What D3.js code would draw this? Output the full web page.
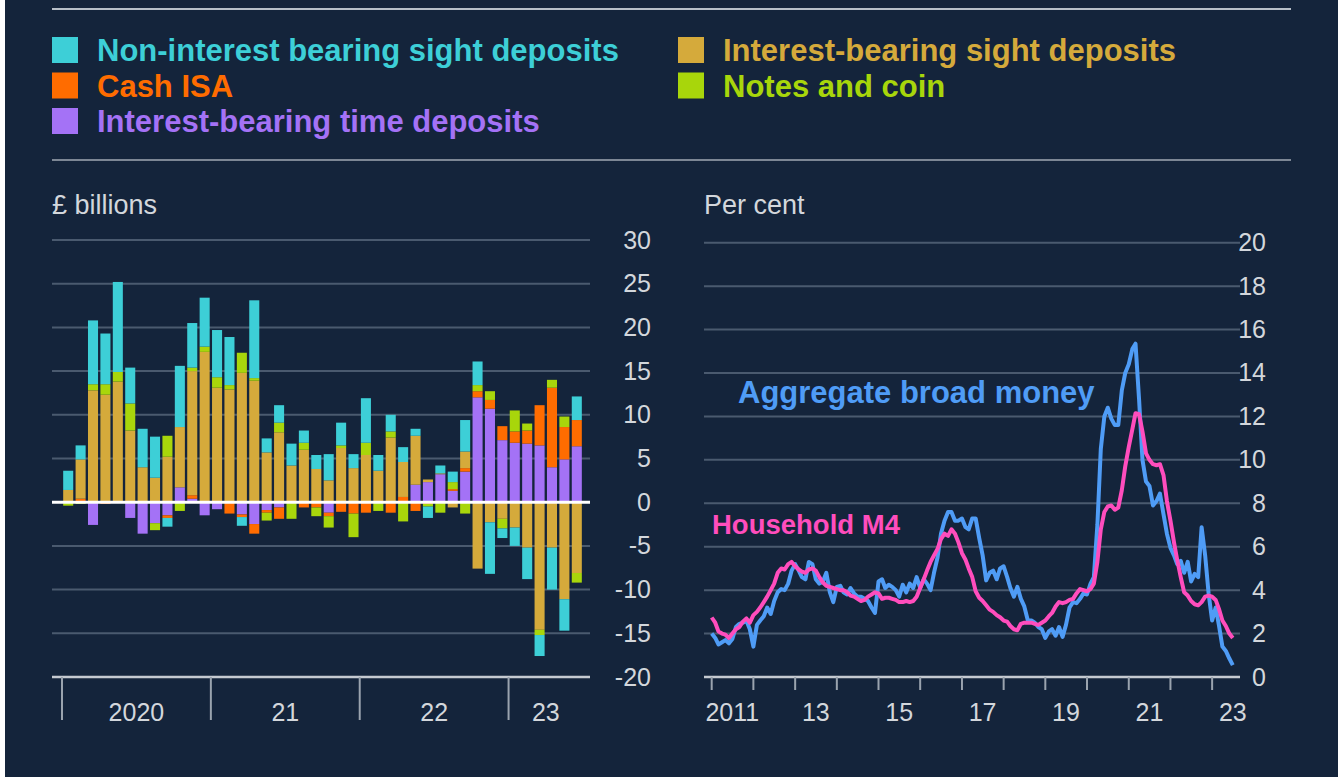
<!DOCTYPE html>
<html>
<head>
<meta charset="utf-8">
<script src="https://cdn.jsdelivr.net/npm/d3@7"></script>
<style>
    html, body { margin: 0; padding: 0; background: #14243b; }
    svg { display: block; font-family: "Liberation Sans", Arial, sans-serif; }
</style>
</head>
<body>
<div id="chart"></div>
<script>
// left panel: monthly flows, Jan 2020 - Jun 2023 (£ billions)
var barMonths = d3.range(42).map(function (i) { return new Date(2020, i, 1); });

var timeDeposits = [0, 0, -2.6, 0, 0, -1.8, -3.6, -2.4, -1.5, 1.7, 0.4, -1.5,
    -0.8, 0, -1.4, -2.5, -0.9, -0.6, 0, 0, 0, -1.2, 0, 0,
    0, 0, 0, 0, 2.0, 2.3, 3.2, 1.3, 3.5, 12.0, 10.7, 7.1,
    6.8, 6.7, 6.5, 4.0, 4.9, 6.4];
var cashIsa = [0, 0.4, 0, -0.2, 0, 0, 0, 0, -0.3, 0, 0.4, 0,
    0, -1.3, -0.3, -1.1, -0.3, -1.3, 0, -0.6, -0.6, -0.4, -1.1, -1.3,
    -1.2, 0, -1.2, 0.6, -1.0, -0.2, -0.1, 0.2, 0.4, 0.7, 1.0, 1.6,
    1.3, 1.5, 4.6, 9.1, 3.7, 3.0];
var sightInterest = [1.4, 4.5, 12.8, 12.3, 13.8, 8.2, 4.0, 2.8, 5.2, 6.9, 14.2, 17.2,
    13.1, 12.9, 14.8, 13.9, 5.7, 8.0, 4.2, 6.0, 3.8, 2.5, 6.2, 3.9,
    5.4, 3.6, 7.4, 4.0, 5.6, 0.3, 0.1, -0.6, 1.9, -7.6, -2.3, -1.9,
    -2.9, -5.2, -14.6, -5.2, -11.1, -8.1];
var notesCoin = [-0.4, -0.2, 0.7, 1.2, 1.1, 3.1, 0, -0.8, 2.4, -1.0, 0.4, 0.6,
    1.2, 0.5, 2.3, 0.3, -0.9, 1.1, -1.9, 0.8, -1.0, -1.3, 0.3, -2.7,
    1.4, -1.0, 0.7, -2.2, 0, -0.3, -1.1, 0.8, -1.3, 0.7, 1.0, -1.1,
    2.4, 0.8, -0.6, 0.9, 1.2, -1.1];
var sightNonInterest = [2.2, 1.6, 7.3, 5.8, 10.3, 4.1, 4.4, 4.7, -1.0, 7.0, 5.1, 5.6,
    5.4, 5.5, -1.0, 8.9, 1.6, 2.0, 2.5, 1.4, 1.6, 3.0, 2.6, 1.6,
    5.1, 1.8, 1.9, 1.7, 0.8, -1.3, 0.9, 1.2, 3.6, 2.7, -5.9, -1.1,
    -2.1, -3.6, -2.4, -4.8, -3.6, 2.7];

var barTicks = [-20, -15, -10, -5, 0, 5, 10, 15, 20, 25, 30];
var barYears = [2020, 2021, 2022, 2023];
var barYearLabels = ['2020', '21', '22', '23'];

// right panel: annual growth rates, monthly from Jan 2011 (per cent)
var broadMoney = [2.0, 1.8, 1.5, 1.6, 1.7, 1.55, 1.75, 2.3, 2.45, 2.5, 2.6, 2.2,
    1.4, 2.4, 2.6, 2.8, 3.2, 2.9, 3.5, 3.9, 4.05, 4.0, 4.3, 4.9,
    5.2, 4.9, 4.6, 4.5, 5.3, 5.2, 4.5, 4.3, 4.4, 4.8, 3.9, 3.45,
    4.15, 4.2, 3.9, 3.8, 4.1, 3.85, 3.7, 3.7, 3.6, 3.5, 3.2, 2.95,
    4.4, 4.5, 4.1, 4.25, 4.15, 4.0, 3.7, 4.25, 3.9, 4.3, 4.1, 4.6,
    4.1, 4.5, 4.3, 4.0, 4.8, 5.5, 6.6, 7.2, 7.6, 7.6, 7.2, 7.2,
    7.3, 6.9, 6.8, 7.3, 7.3, 6.4, 5.6, 4.45, 4.8, 4.9, 4.5, 5.0,
    5.1, 4.6, 4.1, 3.7, 4.15, 3.6, 3.25, 2.6, 2.6, 2.5, 2.3, 2.2,
    1.8, 2.1, 2.2, 1.9, 2.3, 1.85, 2.4, 3.2, 3.45, 3.4, 3.6, 3.85,
    3.8, 4.3, 4.6, 7.0, 10.5, 12.0, 12.4, 11.9, 11.6, 11.6, 13.2, 14.0,
    14.4, 15.1, 15.35, 12.8, 10.0, 9.0, 8.8, 7.9, 8.1, 8.45, 7.5, 6.6,
    5.95, 5.6, 5.2, 5.35, 4.8, 5.3, 4.4, 4.75, 4.6, 6.9, 5.6, 3.85,
    2.6, 3.2, 2.4, 1.4, 1.2, 0.85, 0.55];
var householdM4 = [2.74, 2.5, 2.1, 2.0, 1.95, 1.8, 2.0, 2.2, 2.3, 2.55, 2.7, 2.5,
    2.85, 3.0, 3.2, 3.45, 3.7, 4.0, 4.3, 4.8, 5.0, 4.95, 5.2, 5.3,
    5.1, 4.95, 4.85, 4.8, 4.95, 5.0, 4.9, 4.6, 4.35, 4.2, 4.15, 4.1,
    4.05, 4.0, 4.0, 3.9, 3.75, 3.7, 3.6, 3.5, 3.55, 3.7, 3.8, 3.9,
    3.85, 3.6, 3.65, 3.65, 3.6, 3.55, 3.45, 3.45, 3.5, 3.45, 3.5, 3.7,
    4.1, 4.5, 4.9, 5.3, 5.6, 5.9, 6.35, 6.6, 6.5, 6.8, 6.6, 6.2,
    5.7, 5.4, 5.0, 4.6, 3.95, 3.65, 3.5, 3.3, 3.1, 3.0, 2.85, 2.75,
    2.6, 2.55, 2.35, 2.2, 2.15, 2.45, 2.5, 2.5, 2.5, 2.45, 2.4, 2.5,
    2.6, 2.8, 2.95, 3.25, 3.45, 3.4, 3.45, 3.55, 3.6, 3.85, 4.05, 4.0,
    3.95, 4.05, 4.3, 5.3, 6.8, 7.6, 7.85, 7.9, 7.7, 7.8, 8.6, 9.7,
    10.6, 11.4, 12.15, 12.1, 11.3, 10.3, 10.0, 9.8, 9.75, 9.8, 9.3, 8.1,
    7.2, 6.2, 5.4, 4.6, 3.9, 3.75, 3.5, 3.35, 3.3, 3.45, 3.7, 3.75,
    3.7, 3.55, 3.15, 2.6, 2.35, 2.0, 1.8];
var lineMonths = d3.range(broadMoney.length).map(function (i) { return new Date(2011, i, 1); });

var lineTicks = [0, 2, 4, 6, 8, 10, 12, 14, 16, 18, 20];
var lineYears = d3.range(2011, 2024);
var lineYearLabels = ['2011', '13', '15', '17', '19', '21', '23'];

var series = [
    { key: 'time', name: 'Interest-bearing time deposits', color: '#a472f6', values: timeDeposits },
    { key: 'isa', name: 'Cash ISA', color: '#ff6c00', values: cashIsa },
    { key: 'sight', name: 'Interest-bearing sight deposits', color: '#d5aa3b', values: sightInterest },
    { key: 'notes', name: 'Notes and coin', color: '#a8d60b', values: notesCoin },
    { key: 'nib', name: 'Non-interest bearing sight deposits', color: '#3dcfd7', values: sightNonInterest }
];
var legendOrder = [
    { key: 'nib', col: 0, row: 0 },
    { key: 'isa', col: 0, row: 1 },
    { key: 'time', col: 0, row: 2 },
    { key: 'sight', col: 1, row: 0 },
    { key: 'notes', col: 1, row: 1 }
];

var bg = '#14243b';
var gridColor = '#4a5a6f';
var axisColor = '#c5cad1';
var textColor = '#d3d7dc';

var width = 1338, height = 777;
var plain = function (d) { return String(d); };

var svg = d3.select('#chart').append('svg')
    .attr('width', width)
    .attr('height', height);

svg.append('rect').attr('width', width).attr('height', height).attr('fill', bg);
svg.append('rect').attr('width', 5).attr('height', height).attr('fill', '#ffffff');

// legend
svg.append('line').attr('x1', 52).attr('x2', 1291).attr('y1', 9).attr('y2', 9)
    .attr('stroke', '#b7bfc8').attr('stroke-width', 2);
svg.append('line').attr('x1', 52).attr('x2', 1291).attr('y1', 160).attr('y2', 160)
    .attr('stroke', '#7d8795').attr('stroke-width', 2);

var byKey = {};
series.forEach(function (s) { byKey[s.key] = s; });

var legend = svg.append('g').selectAll('g')
    .data(legendOrder)
    .join('g')
    .attr('transform', function (d) {
        return 'translate(' + (52 + d.col * 626) + ',' + (50 + d.row * 35.5) + ')';
    });
legend.append('rect')
    .attr('y', -13).attr('width', 26).attr('height', 26)
    .attr('fill', function (d) { return byKey[d.key].color; });
legend.append('text')
    .attr('x', 45).attr('dy', '0.36em')
    .attr('font-size', 31).attr('font-weight', 'bold')
    .attr('fill', function (d) { return byKey[d.key].color; })
    .text(function (d) { return byKey[d.key].name; });

// ---------- left: stacked bars ----------
var x = d3.scaleBand()
    .domain(barMonths)
    .range([62, 583])
    .paddingInner(0.19)
    .paddingOuter(0.095);

var y = d3.scaleLinear().domain([-20, 30]).range([677, 240]);

var left = svg.append('g');

left.append('text').attr('x', 52).attr('y', 214)
    .attr('font-size', 27).attr('fill', textColor).text('£ billions');

left.append('g').selectAll('line')
    .data(barTicks.filter(function (t) { return t !== -20 && t !== 0; }))
    .join('line')
    .attr('x1', 52).attr('x2', 590)
    .attr('y1', function (d) { return y(d); }).attr('y2', function (d) { return y(d); })
    .attr('stroke', gridColor).attr('stroke-width', 2);

var yAxisLeft = d3.axisRight(y).tickValues(barTicks).tickFormat(plain).tickSize(0).tickPadding(0);
left.append('g')
    .attr('transform', 'translate(651,0)')
    .call(yAxisLeft)
    .call(function (g) {
        g.select('.domain').remove();
        g.selectAll('text').attr('text-anchor', 'end').attr('font-size', 25)
            .attr('fill', textColor).attr('font-family', null);
    });

var rows = barMonths.map(function (m, i) {
    var r = { month: m };
    series.forEach(function (s) { r[s.key] = s.values[i]; });
    return r;
});
var stacked = d3.stack()
    .keys(series.map(function (s) { return s.key; }))
    .offset(d3.stackOffsetDiverging)(rows);

left.append('g').selectAll('g')
    .data(stacked)
    .join('g')
    .attr('fill', function (d) { return byKey[d.key].color; })
    .selectAll('rect')
    .data(function (d) { return d; })
    .join('rect')
    .attr('x', function (d) { return x(d.data.month); })
    .attr('width', x.bandwidth())
    .attr('y', function (d) { return y(Math.max(d[0], d[1])); })
    .attr('height', function (d) { return Math.abs(y(d[0]) - y(d[1])); });

left.append('line').attr('x1', 52).attr('x2', 590).attr('y1', y(0)).attr('y2', y(0))
    .attr('stroke', '#ffffff').attr('stroke-width', 3);
left.append('line').attr('x1', 52).attr('x2', 590).attr('y1', y(-20)).attr('y2', y(-20))
    .attr('stroke', axisColor).attr('stroke-width', 2.5);

var step = x.step();
var yearEdge = function (yr) { return x(new Date(yr, 0, 1)) - step * x.paddingInner() / 2; };
left.append('g').selectAll('line')
    .data(barYears)
    .join('line')
    .attr('x1', yearEdge).attr('x2', yearEdge)
    .attr('y1', y(-20)).attr('y2', 720)
    .attr('stroke', '#9aa3ae').attr('stroke-width', 2);
left.append('g').selectAll('text')
    .data(barYears)
    .join('text')
    .attr('x', function (yr, i) {
        var end = i < barYears.length - 1 ? yearEdge(barYears[i + 1]) : x.range()[1];
        return (yearEdge(yr) + end) / 2;
    })
    .attr('y', 721)
    .attr('text-anchor', 'middle').attr('font-size', 25).attr('fill', textColor)
    .text(function (yr, i) { return barYearLabels[i]; });

// ---------- right: growth lines ----------
var xt = d3.scaleTime()
    .domain([new Date(2011, 0, 1), new Date(2024, 0, 1)])
    .range([711.7, 711.7 + 13 * 41.7]);
var yr = d3.scaleLinear().domain([0, 20]).range([677, 242.7]);

var right = svg.append('g');

right.append('text').attr('x', 704).attr('y', 214)
    .attr('font-size', 27).attr('fill', textColor).text('Per cent');

right.append('g').selectAll('line')
    .data(lineTicks.filter(function (t) { return t !== 0; }))
    .join('line')
    .attr('x1', 704).attr('x2', 1240)
    .attr('y1', function (d) { return yr(d); }).attr('y2', function (d) { return yr(d); })
    .attr('stroke', gridColor).attr('stroke-width', 2);

var yAxisRight = d3.axisRight(yr).tickValues(lineTicks).tickFormat(plain).tickSize(0).tickPadding(0);
right.append('g')
    .attr('transform', 'translate(1266,0)')
    .call(yAxisRight)
    .call(function (g) {
        g.select('.domain').remove();
        g.selectAll('text').attr('text-anchor', 'end').attr('font-size', 25)
            .attr('fill', textColor).attr('font-family', null);
    });

right.append('line').attr('x1', 704).attr('x2', 1240).attr('y1', yr(0)).attr('y2', yr(0))
    .attr('stroke', axisColor).attr('stroke-width', 2.5);
right.append('g').selectAll('line')
    .data(lineYears)
    .join('line')
    .attr('x1', function (d) { return xt(new Date(d, 0, 1)); })
    .attr('x2', function (d) { return xt(new Date(d, 0, 1)); })
    .attr('y1', yr(0)).attr('y2', 690)
    .attr('stroke', '#9aa3ae').attr('stroke-width', 2);
right.append('g').selectAll('text')
    .data(lineYearLabels)
    .join('text')
    .attr('x', function (d, i) { return xt(new Date(2011 + i * 2, 6, 1)); })
    .attr('y', 721)
    .attr('text-anchor', 'middle').attr('font-size', 25).attr('fill', textColor)
    .text(function (d) { return d; });

var line = d3.line()
    .x(function (d, i) { return xt(lineMonths[i]); })
    .y(function (d) { return yr(d); });

right.append('path')
    .attr('d', line(broadMoney))
    .attr('fill', 'none').attr('stroke', '#4f9cf6').attr('stroke-width', 4)
    .attr('stroke-linejoin', 'round');
right.append('path')
    .attr('d', line(householdM4))
    .attr('fill', 'none').attr('stroke', '#ff4dbd').attr('stroke-width', 4)
    .attr('stroke-linejoin', 'round');

right.append('text').attr('x', 738).attr('y', 403)
    .attr('font-size', 31).attr('font-weight', 'bold').attr('fill', '#4f9cf6')
    .text('Aggregate broad money');
right.append('text').attr('x', 712).attr('y', 534)
    .attr('font-size', 27.5).attr('font-weight', 'bold').attr('fill', '#ff4dbd')
    .text('Household M4');
</script>
</body>
</html>
